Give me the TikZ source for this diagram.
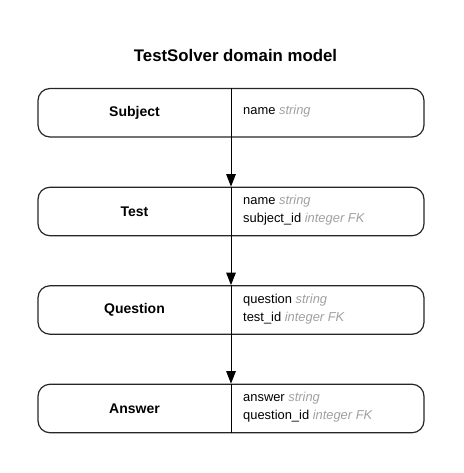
\documentclass[tikz,border=0pt]{standalone}
\usepackage{fontspec}
\setmainfont{Liberation Sans}
\usetikzlibrary{arrows.meta}
\definecolor{typegray}{HTML}{A0A0A0}
\tikzset{
  entity/.style={draw=black!85, line width=1.2pt, rounded corners=12pt,
    minimum width=386pt, minimum height=48.5pt, inner sep=0pt},
  ename/.style={font=\fontsize{14}{16}\selectfont\bfseries},
  fields/.style={font=\fontsize{12.9}{18}\selectfont, align=left, anchor=west, inner sep=0pt},
  divider/.style={line width=1pt},
  link/.style={line width=1pt, -{Triangle[length=12.5pt,width=9.5pt]}},
  title/.style={font=\fontsize{16.8}{20}\selectfont\bfseries}
}
\newcommand{\ftype}[1]{\textcolor{typegray}{\itshape #1}}
\begin{document}
\begin{tikzpicture}[x=1pt,y=-1pt]
\useasboundingbox (0,0) rectangle (463,473);
\node[title] (ttl) at (235.5,55) {TestSolver domain model};

\node[entity] (subject) at (231,112.75) {};
\node[entity] (test) at (231,211.5) {};
\node[entity] (question) at (231,310) {};
\node[entity] (answer) at (231,408.5) {};

\node[ename] (subjectl) at (134.5,112.75) {Subject};
\node[ename] (testl) at (134.5,211.5) {Test};
\node[ename] (questionl) at (134.5,310) {Question};
\node[ename] (answerl) at (134.5,408.5) {Answer};

\node[fields] (subjectf) at (243,111.5) {name \ftype{string}};
\node[fields] (testf) at (243,210.5) {name \ftype{string}\\subject\_id \ftype{integer FK}};
\node[fields] (questionf) at (243,309) {question \ftype{string}\\test\_id \ftype{integer FK}};
\node[fields] (answerf) at (243,407.5) {answer \ftype{string}\\question\_id \ftype{integer FK}};

\foreach \n in {subject,test,question,answer}
  \draw[divider] (\n.north) -- (\n.south);

\draw[link] (subject.south) -- (test.north);
\draw[link] (test.south) -- (question.north);
\draw[link] (question.south) -- (answer.north);
\end{tikzpicture}
\end{document}
